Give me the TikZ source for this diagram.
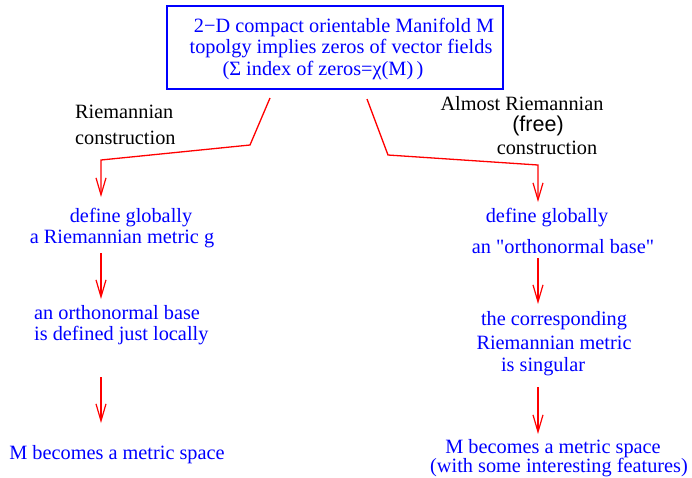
\documentclass[tikz,border=0pt]{standalone}
\usepackage{fontspec}
\setmainfont{Liberation Serif}[Ligatures=TeXOff]
\newfontfamily\freefont{Liberation Sans}
\usetikzlibrary{arrows.meta}
\tikzset{
  txt/.style={anchor=base, inner sep=0pt, font=\fontsize{20.3}{22}\selectfont},
  bl/.style={txt, text=blue},
  bk/.style={txt, text=black},
  conn/.style={draw=red, line width=1.3pt, line join=miter},
  arr/.style={conn, -{Straight Barb[length=17pt,width=10pt,line width=1.2pt]}},
  frame/.style={draw=blue, line width=2pt, minimum width=336pt, minimum height=83pt, inner sep=0pt}
}
\begin{document}
\begin{tikzpicture}[x=1pt,y=-1pt]
\useasboundingbox (0,0) rectangle (692,477);
% top box
\node[frame] (box) at (335,47) {};
\node[bl] (t1) at (344,32) {2\char"2212 D compact orientable Manifold M};
\node[bl] (t2) at (341,53) {topolgy implies zeros of vector fields};
\node[bl] (t3) at (323,75) {(Σ index of zeros=χ(M)\,)};
% branch labels
\node[bk, anchor=base west] (rl1) at (75,118) {Riemannian};
\node[bk, anchor=base west] (rl2) at (75,144) {construction};
\node[bk] (al1) at (522,110) {Almost Riemannian};
\node[txt, text=black, font=\freefont\fontsize{21.5}{23}\selectfont] (al2) at (538,131) {(free)};
\node[bk] (al3) at (547,154) {construction};
% left column
\node[bl] (l1) at (131,222) {define globally};
\node[bl] (l2) at (122,243) {a Riemannian metric g};
\node[bl, anchor=base west] (l3) at (34,319) {an orthonormal base};
\node[bl, anchor=base west] (l4) at (34,340) {is defined just locally};
\node[bl] (l5) at (117,459) {M becomes a metric space};
% right column
\node[bl] (r1) at (547,222) {define globally};
\node[bl] (r2) at (563,253) {an "orthonormal base"};
\node[bl] (r3) at (554,325) {the corresponding};
\node[bl] (r4) at (554,349) {Riemannian metric};
\node[bl] (r5) at (543,371) {is singular};
\node[bl] (r6) at (553,453) {M becomes a metric space};
\node[bl] (r7) at (559,472) {(with some interesting features)};
% connector points
\coordinate (ls) at (270,98);
\coordinate (lk1) at (250,145);
\coordinate (lk2) at (101,160);
\coordinate (lt) at (101,197);
\coordinate (rs) at (367,99);
\coordinate (rk1) at (388,155);
\coordinate (rk2) at (538,165);
\coordinate (rt) at (538,202);
\coordinate (la1) at (101,253);
\coordinate (la2) at (101,299);
\coordinate (la3) at (101,377);
\coordinate (la4) at (101,423);
\coordinate (ra1) at (538,258);
\coordinate (ra2) at (538,304);
\coordinate (ra3) at (538,387);
\coordinate (ra4) at (538,434);
\draw[arr] (ls) -- (lk1) -- (lk2) -- (lt);
\draw[arr] (rs) -- (rk1) -- (rk2) -- (rt);
\draw[arr] (la1) -- (la2);
\draw[arr] (la3) -- (la4);
\draw[arr] (ra1) -- (ra2);
\draw[arr] (ra3) -- (ra4);
\end{tikzpicture}
\end{document}
